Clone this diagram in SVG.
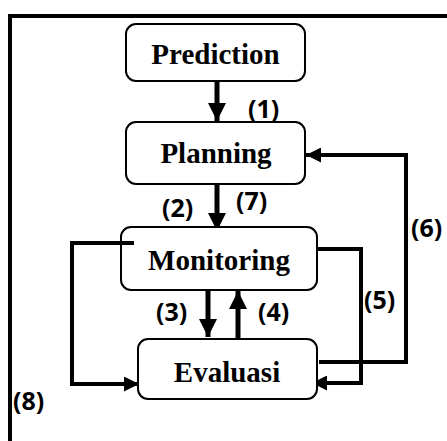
<svg xmlns="http://www.w3.org/2000/svg" width="447" height="441" viewBox="0 0 447 441">
<defs>
<style>
.box{fill:#fff;stroke:#000;stroke-width:2}
.t{font-family:"Liberation Serif","Times New Roman",serif;font-weight:bold;font-size:29px;text-anchor:middle;fill:#000}
.l{font-family:"Open Sans","Liberation Sans",sans-serif;font-weight:bold;font-size:25px;fill:#000}
.c{fill:none;stroke:#000;stroke-width:4;stroke-linejoin:miter}
.s{fill:none;stroke:#000;stroke-width:5}
</style>
<marker id="big" markerUnits="userSpaceOnUse" markerWidth="18" markerHeight="18" refX="18" refY="9" orient="auto" viewBox="0 0 18 18">
<path d="M0,0 L18,9 L0,18 z" fill="#000"/>
</marker>
<marker id="small" markerUnits="userSpaceOnUse" markerWidth="15" markerHeight="15" refX="15" refY="7.5" orient="auto" viewBox="0 0 15 15">
<path d="M0,0 L15,7.5 L0,15 z" fill="#000"/>
</marker>
</defs>
<rect width="447" height="441" fill="#fff"/>
<g id="frame">
<path d="M447,16 H10 V441" fill="none" stroke="#000" stroke-width="4"/>
</g>
<g id="connectors">
<path class="s" d="M217,81 V121" marker-end="url(#big)"/>
<path class="s" d="M217,184 V231" marker-end="url(#big)"/>
<path class="s" d="M208,290 V337" marker-end="url(#big)"/>
<path class="s" d="M238,339 V291" marker-end="url(#big)"/>
<path class="c" d="M319,362 H406 V155 H306" marker-end="url(#small)"/>
<path class="c" d="M317,249 H361 V383 H312" marker-end="url(#small)"/>
<path class="c" d="M134,243 H72 V384 H139" marker-end="url(#small)"/>
<text class="l" x="248" y="118">(1)</text>
<text class="l" x="162" y="217">(2)</text>
<text class="l" x="236" y="210">(7)</text>
<text class="l" x="156" y="321">(3)</text>
<text class="l" x="258" y="321">(4)</text>
<text class="l" x="364" y="309">(5)</text>
<text class="l" x="411" y="237">(6)</text>
<text class="l" x="13" y="410">(8)</text>
</g>
<g id="prediction">
<rect class="box" x="126" y="24" width="179" height="57" rx="10"/>
<text class="t" x="215.5" y="64">Prediction</text>
</g>
<g id="planning">
<rect class="box" x="126" y="122" width="179" height="62" rx="10"/>
<text class="t" x="216" y="163">Planning</text>
</g>
<g id="monitoring">
<rect class="box" x="121" y="227" width="196" height="63" rx="10"/>
<text class="t" x="219" y="270">Monitoring</text>
</g>
<g id="evaluasi">
<rect class="box" x="138" y="339" width="179" height="60" rx="10"/>
<text class="t" x="227" y="382">Evaluasi</text>
</g>
<path d="M134,243 H118" class="c"/>
</svg>
